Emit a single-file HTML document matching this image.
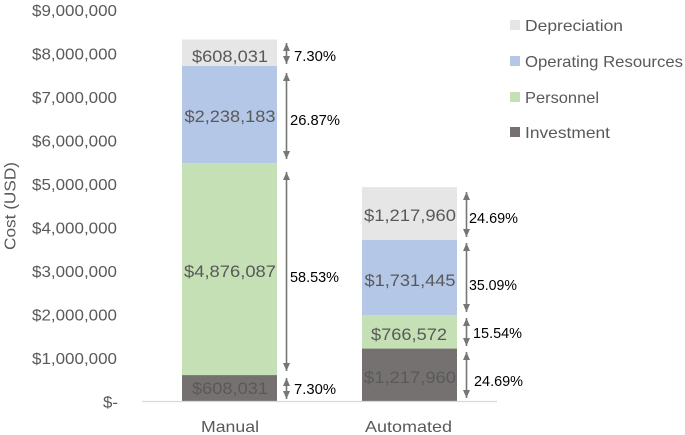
<!DOCTYPE html>
<html><head><meta charset="utf-8"><style>
html,body{margin:0;padding:0;background:#fff;}
svg{display:block;}
text{font-family:"Liberation Sans",sans-serif;}
</style></head><body>
<svg width="685" height="435" viewBox="0 0 685 435" xmlns="http://www.w3.org/2000/svg">
<defs>
<marker id="ah" viewBox="0 0 8 7" refX="8" refY="3.5" markerWidth="8" markerHeight="7" markerUnits="userSpaceOnUse" orient="auto-start-reverse">
<path d="M0,0 L8,3.5 L0,7 z" fill="#767676"/>
</marker>
</defs>
<!-- y tick labels -->
<g fill="#595959" font-size="16" text-anchor="end">
<text x="117" y="16" textLength="85" lengthAdjust="spacingAndGlyphs">$9,000,000</text>
<text x="117" y="59.5" textLength="85" lengthAdjust="spacingAndGlyphs">$8,000,000</text>
<text x="117" y="103" textLength="85" lengthAdjust="spacingAndGlyphs">$7,000,000</text>
<text x="117" y="146.5" textLength="85" lengthAdjust="spacingAndGlyphs">$6,000,000</text>
<text x="117" y="190" textLength="85" lengthAdjust="spacingAndGlyphs">$5,000,000</text>
<text x="117" y="233.5" textLength="85" lengthAdjust="spacingAndGlyphs">$4,000,000</text>
<text x="117" y="277" textLength="85" lengthAdjust="spacingAndGlyphs">$3,000,000</text>
<text x="117" y="320.5" textLength="85" lengthAdjust="spacingAndGlyphs">$2,000,000</text>
<text x="117" y="364" textLength="85" lengthAdjust="spacingAndGlyphs">$1,000,000</text>
<text x="118" y="407.5" textLength="15" lengthAdjust="spacingAndGlyphs">$-</text>
</g>
<!-- y axis title -->
<text transform="translate(15.5,206) rotate(-90)" text-anchor="middle" font-size="16" fill="#595959" textLength="88" lengthAdjust="spacingAndGlyphs">Cost (USD)</text>

<!-- bars manual -->
<rect x="182" y="39.5" width="95" height="26.5" fill="#e7e6e6"/>
<rect x="182" y="66" width="95" height="97.2" fill="#b4c7e7"/>
<rect x="182" y="163.2" width="95" height="211.9" fill="#c5e0b4"/>
<rect x="182" y="375.1" width="95" height="26.4" fill="#767171"/>
<!-- bars automated -->
<rect x="362" y="187.1" width="95" height="52.9" fill="#e7e6e6"/>
<rect x="362" y="240" width="95" height="75.3" fill="#b4c7e7"/>
<rect x="362" y="315.3" width="95" height="33.3" fill="#c5e0b4"/>
<rect x="362" y="348.6" width="95" height="52.9" fill="#767171"/>

<!-- axis line -->
<line x1="142" y1="401.5" x2="497" y2="401.5" stroke="#d9d9d9" stroke-width="1.2"/>

<!-- bar labels -->
<g fill="#595959" font-size="17" text-anchor="middle">
<text x="230" y="62" textLength="76" lengthAdjust="spacingAndGlyphs">$608,031</text>
<text x="230" y="122" textLength="91" lengthAdjust="spacingAndGlyphs">$2,238,183</text>
<text x="230" y="277" textLength="92" lengthAdjust="spacingAndGlyphs">$4,876,087</text>
<text x="230" y="394" textLength="76" lengthAdjust="spacingAndGlyphs">$608,031</text>
<text x="410" y="221" textLength="92" lengthAdjust="spacingAndGlyphs">$1,217,960</text>
<text x="410" y="286" textLength="91" lengthAdjust="spacingAndGlyphs">$1,731,445</text>
<text x="409" y="340" textLength="76" lengthAdjust="spacingAndGlyphs">$766,572</text>
<text x="410" y="383" textLength="92" lengthAdjust="spacingAndGlyphs">$1,217,960</text>
</g>

<!-- arrows -->
<g stroke="#767676" stroke-width="1.6" marker-start="url(#ah)" marker-end="url(#ah)">
<line x1="286.5" y1="43" x2="286.5" y2="64"/>
<line x1="286.5" y1="73" x2="286.5" y2="159"/>
<line x1="286.5" y1="172" x2="286.5" y2="371"/>
<line x1="286.5" y1="378" x2="286.5" y2="399"/>
<line x1="466.5" y1="192" x2="466.5" y2="237"/>
<line x1="466.5" y1="243" x2="466.5" y2="312"/>
<line x1="466.5" y1="318" x2="466.5" y2="346"/>
<line x1="466.5" y1="352" x2="466.5" y2="398"/>
</g>

<!-- percent labels -->
<g fill="#000" font-size="14.5">
<text x="294" y="61" textLength="42" lengthAdjust="spacingAndGlyphs">7.30%</text>
<text x="290" y="125" textLength="50" lengthAdjust="spacingAndGlyphs">26.87%</text>
<text x="290" y="282" textLength="49" lengthAdjust="spacingAndGlyphs">58.53%</text>
<text x="294" y="394" textLength="42" lengthAdjust="spacingAndGlyphs">7.30%</text>
<text x="469" y="223" textLength="49" lengthAdjust="spacingAndGlyphs">24.69%</text>
<text x="469" y="290" textLength="48" lengthAdjust="spacingAndGlyphs">35.09%</text>
<text x="473" y="338" textLength="49" lengthAdjust="spacingAndGlyphs">15.54%</text>
<text x="474" y="386" textLength="49" lengthAdjust="spacingAndGlyphs">24.69%</text>
</g>

<!-- x labels -->
<g fill="#595959" font-size="16" text-anchor="middle">
<text x="230" y="432" textLength="58" lengthAdjust="spacingAndGlyphs">Manual</text>
<text x="408.5" y="432" textLength="87" lengthAdjust="spacingAndGlyphs">Automated</text>
</g>

<!-- legend -->
<rect x="510" y="20" width="10" height="10" fill="#e7e6e6"/>
<rect x="510" y="56" width="10" height="10" fill="#b4c7e7"/>
<rect x="510" y="92" width="10" height="10" fill="#c5e0b4"/>
<rect x="510" y="127" width="10" height="10" fill="#767171"/>
<g fill="#595959" font-size="16">
<text x="525" y="31" textLength="98" lengthAdjust="spacingAndGlyphs">Depreciation</text>
<text x="525" y="67" textLength="158" lengthAdjust="spacingAndGlyphs">Operating Resources</text>
<text x="525" y="103" textLength="74" lengthAdjust="spacingAndGlyphs">Personnel</text>
<text x="525" y="138" textLength="85" lengthAdjust="spacingAndGlyphs">Investment</text>
</g>
</svg>
</body></html>
